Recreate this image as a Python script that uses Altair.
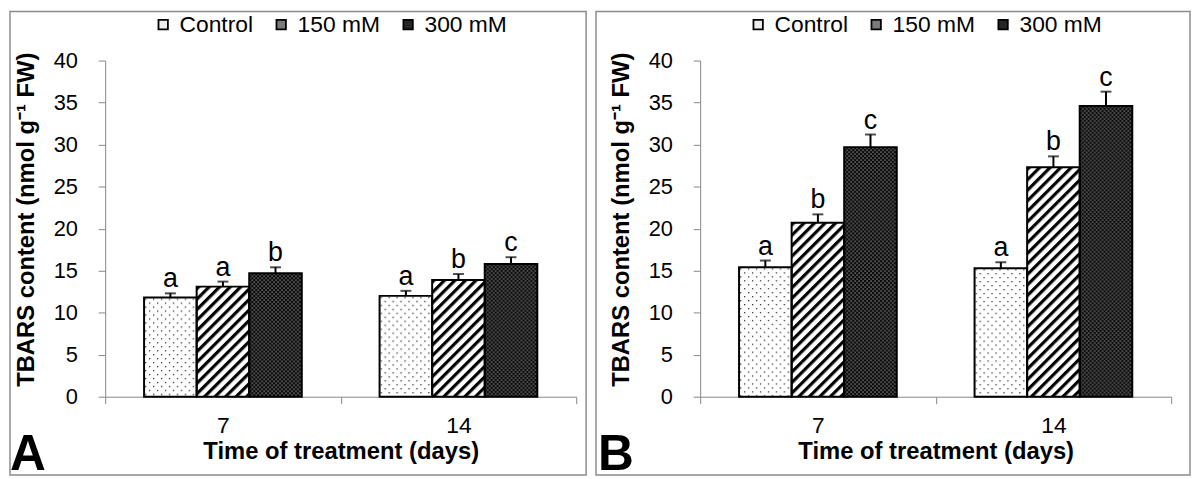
import urllib.parse
import altair as alt
import pandas as pd

# ---------------- data ----------------
days = ["7", "14"]
treatments = ["Control", "150 mM", "300 mM"]
y_ticks = [0, 5, 10, 15, 20, 25, 30, 35, 40]

# Panel A
a_control = [11.8, 12.0]
a_150 = [13.1, 13.9]
a_300 = [14.7, 15.8]
a_control_err = [0.5, 0.6]
a_150_err = [0.6, 0.7]
a_300_err = [0.7, 0.8]
a_control_let = ["a", "a"]
a_150_let = ["a", "b"]
a_300_let = ["b", "c"]

# Panel B
b_control = [15.4, 15.3]
b_150 = [20.7, 27.3]
b_300 = [29.7, 34.6]
b_control_err = [0.8, 0.7]
b_150_err = [1.0, 1.3]
b_300_err = [1.5, 1.7]
b_control_let = ["a", "a"]
b_150_let = ["b", "b"]
b_300_let = ["c", "c"]

x_title = "Time of treatment (days)"
y_title = "TBARS content (nmol g\u207b\u00b9 FW)"

FONT = "Liberation Sans"
GRAYS = ["#eeeeee", "#7a7a7a", "#262626"]


def table(ctrl, m150, m300, e_ctrl, e150, e300, l_ctrl, l150, l300):
    rows = []
    for t, vals, errs, lets in [
        ("Control", ctrl, e_ctrl, l_ctrl),
        ("150 mM", m150, e150, l150),
        ("300 mM", m300, e300, l300),
    ]:
        for d, v, e, l in zip(days, vals, errs, lets):
            rows.append({"day": d, "treatment": t, "value": v, "err": e, "letter": l})
    return pd.DataFrame(rows)


df_a = table(a_control, a_150, a_300, a_control_err, a_150_err, a_300_err,
             a_control_let, a_150_let, a_300_let)
df_b = table(b_control, b_150, b_300, b_control_err, b_150_err, b_300_err,
             b_control_let, b_150_let, b_300_let)


# ---------------- fill textures (SVG tiles) ----------------
def svg_tile(w, h, inner, extra=""):
    svg = (
        "<svg xmlns='http://www.w3.org/2000/svg' width='100%' height='100%'>"
        f"<defs><pattern id='p' patternUnits='userSpaceOnUse' width='{w}' height='{h}' {extra}>"
        f"{inner}</pattern></defs>"
        "<rect width='100%' height='100%' fill='url(#p)'/></svg>"
    )
    return "data:image/svg+xml;charset=utf-8," + urllib.parse.quote(svg)


PATTERNS = {
    "Control": svg_tile(
        8, 8,
        "<rect width='8' height='8' fill='white'/>"
        "<rect x='1' y='1' width='1.3' height='1.3' fill='#333'/>"
        "<rect x='5' y='5' width='1.3' height='1.3' fill='#333'/>",
    ),
    "150 mM": svg_tile(
        7.5, 7.5,
        "<rect width='7.5' height='7.5' fill='white'/>"
        "<rect x='0' y='0' width='3.2' height='7.5' fill='black'/>",
        "patternTransform='rotate(45)'",
    ),
    "300 mM": svg_tile(
        4, 4,
        "<rect width='4' height='4' fill='#0a0a0a'/>"
        "<rect x='0.5' y='0.5' width='1.1' height='1.1' fill='#d8d8d8'/>"
        "<rect x='2.5' y='2.5' width='1.1' height='1.1' fill='#d8d8d8'/>",
    ),
}

W, H = 475, 339

X_AXIS = alt.Axis(labelFontSize=23, labelPadding=11, labelAngle=0, tickBand="extent",
                  titleY=62, titleBaseline="alphabetic")
Y_AXIS = alt.Axis(values=y_ticks, labelFontSize=22, labelPadding=21, titleX=-72,
                  titleY=160, titleBaseline="alphabetic", titleAngle=270)


def panel(df, letter, frame_left, frame_right, tag_x):
    base = alt.Chart(df)
    x = alt.X("day:N", sort=days, title=x_title, axis=X_AXIS,
              scale=alt.Scale(paddingInner=0, paddingOuter=0))
    xo = alt.XOffset("treatment:N", sort=treatments,
                     scale=alt.Scale(paddingInner=0, paddingOuter=0.74))
    y = alt.Y("value:Q", title=y_title,
              scale=alt.Scale(domain=[0, 40], nice=False), axis=Y_AXIS)
    y_up = alt.Y("upper:Q", title=y_title, axis=Y_AXIS)

    frame = alt.Chart(alt.Data(values=[{}])).mark_rect(
        fillOpacity=0, stroke="#8c8c8c", strokeWidth=1.5
    ).encode(
        x=alt.value(frame_left), x2=alt.value(frame_right),
        y=alt.value(-49.5), y2=alt.value(418),
    )

    bars = base.mark_bar().encode(
        x=x, xOffset=xo, y=y,
        color=alt.Color(
            "treatment:N", sort=treatments,
            scale=alt.Scale(domain=treatments, range=GRAYS),
            legend=alt.Legend(
                title=None, orient="none", legendX=47, legendY=-48,
                direction="horizontal", symbolType="square", symbolSize=90,
                symbolStrokeColor="black", symbolStrokeWidth=1.8,
                labelFontSize=23, labelFont=FONT, labelColor="black",
                labelOffset=5, columnPadding=16, padding=0,
            ),
        ),
    )

    images = []
    for t in treatments:
        images.append(
            base.transform_filter(alt.datum.treatment == t)
            .mark_image(aspect=False)
            .encode(x=x, xOffset=xo, y=y, y2=alt.datum(0),
                    url=alt.value(PATTERNS[t]))
        )

    outline = base.mark_bar(fillOpacity=0, stroke="black", strokeWidth=2).encode(
        x=x, xOffset=xo, y=y
    )

    up = base.transform_calculate(upper="datum.value + datum.err")
    rule = up.mark_rule(color="black", strokeWidth=2).encode(
        x=x, xOffset=xo, y=y, y2="upper:Q"
    )
    cap = up.mark_tick(color="black", thickness=2, size=11).encode(
        x=x, xOffset=xo, y=y_up
    )
    lets = up.mark_text(fontSize=27, font=FONT, baseline="alphabetic", dy=-6,
                        color="black").encode(
        x=x, xOffset=xo, y=y_up, text="letter:N"
    )

    tag = alt.Chart(alt.Data(values=[{}])).mark_text(
        align="left", baseline="alphabetic", fontSize=50, fontWeight="bold",
        font=FONT, color="black"
    ).encode(x=alt.value(tag_x), y=alt.value(413), text=alt.value(letter))

    return alt.layer(frame, bars, *images, outline, rule, cap, lets, tag).properties(
        width=W, height=H
    )


chart_a = panel(df_a, "A", -96, 485, -96)
chart_b = panel(df_b, "B", -105, 494, -103)

chart = (
    alt.hconcat(chart_a, chart_b, spacing=6)
    .resolve_scale(color="independent")
    .resolve_legend(color="independent")
    .properties(padding=0, background="white")
    .configure_view(stroke="transparent")
    .configure_axis(
        grid=False, domainColor="#888888", tickColor="#888888", tickSize=7,
        labelFont=FONT, titleFont=FONT, labelColor="black", titleColor="black",
        titleFontWeight="bold", titleFontSize=24,
    )
)

chart.save("out.html", embed_options={"renderer": "svg", "actions": False})
